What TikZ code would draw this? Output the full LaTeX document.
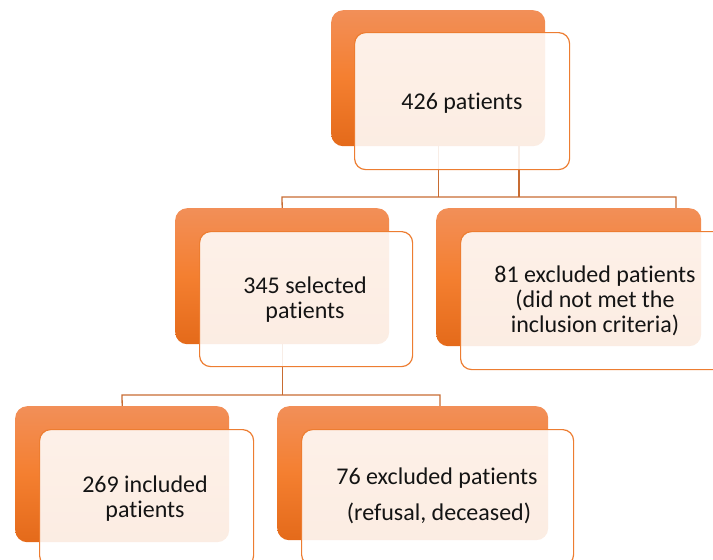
\documentclass[tikz,border=0pt]{standalone}
\usepackage{fontspec}
\setmainfont{Carlito}[RawFeature=-liga]
\definecolor{orT}{RGB}{242,143,88}
\definecolor{orM}{RGB}{244,127,48}
\definecolor{orB}{RGB}{228,106,26}
\definecolor{frline}{RGB}{237,125,49}
\definecolor{cnline}{RGB}{200,108,50}
\pgfdeclarelayer{bg}
\pgfdeclarelayer{back}
\pgfsetlayers{bg,back,main}
\tikzset{
  backbox/.style={rectangle, rounded corners=12pt, top color=orT, bottom color=orB, middle color=orM, draw=none, anchor=north west, inner sep=0pt},
  frontbox/.style={rectangle, rounded corners=11pt, draw=frline, line width=1.2pt, fill=white, fill opacity=0.88, anchor=north west, inner sep=0pt},
  conn/.style={draw=cnline, line width=1.3pt},
  lbl/.style={font=\fontsize{24}{25}\selectfont, align=center, text=black!92, anchor=base}
}
\begin{document}
\begin{tikzpicture}[x=1pt,y=-1pt]
\useasboundingbox (0,0) rectangle (713,560);
% junction coordinates
\coordinate (j1l) at (282,197);
\coordinate (j1r) at (676,197);
\coordinate (k1) at (519,197);
\coordinate (j2l) at (122,395);
\coordinate (j2r) at (440,395);
% back boxes
\begin{pgfonlayer}{back}
\node[backbox, minimum width=214pt, minimum height=136pt] (b426) at (331,10) {};
\node[backbox, minimum width=214pt, minimum height=136pt] (b345) at (175,208) {};
\node[backbox, minimum width=265pt, minimum height=138pt] (b81) at (436,208) {};
\node[backbox, minimum width=214pt, minimum height=136pt] (b269) at (15,406) {};
\node[backbox, minimum width=271pt, minimum height=134pt] (b76) at (277,406) {};
\end{pgfonlayer}
% front boxes
\node[frontbox, minimum width=215pt, minimum height=137pt] (f426) at (354,32) {};
\node[frontbox, minimum width=213pt, minimum height=135pt] (f345) at (199,231) {};
\node[frontbox, minimum width=265pt, minimum height=138pt] (f81) at (460,231) {};
\node[frontbox, minimum width=214pt, minimum height=137pt] (f269) at (39,429) {};
\node[frontbox, minimum width=272pt, minimum height=136pt] (f76) at (301,429) {};
% labels (base anchor = baseline of last line)
\node[lbl] (t426) at (462,109) {426 patients};
\node[lbl] (t345) at (305,318) {345 selected\\patients};
\node[lbl] (t81) at (595,332) {81 excluded patients\\(did not met the\\inclusion criteria)};
\node[lbl] (t269) at (145,517) {269 included\\patients};
\node[lbl] (t76) at (437,520) {76 excluded patients\\[11pt]\,(refusal, deceased)};
% connectors
\begin{pgfonlayer}{bg}
\draw[conn] (b426.south) -- (b426.south |- j1l);
\draw[conn] (k1 |- b426.south) -- (k1);
\draw[conn] (b345.north) -- (j1l) -- (j1r) -- (j1r |- b81.north);
\draw[conn] (b345.south) -- (b345.south |- j2l);
\draw[conn] (b269.north) -- (j2l) -- (j2r) -- (j2r |- b76.north);
\end{pgfonlayer}
\end{tikzpicture}
\end{document}
